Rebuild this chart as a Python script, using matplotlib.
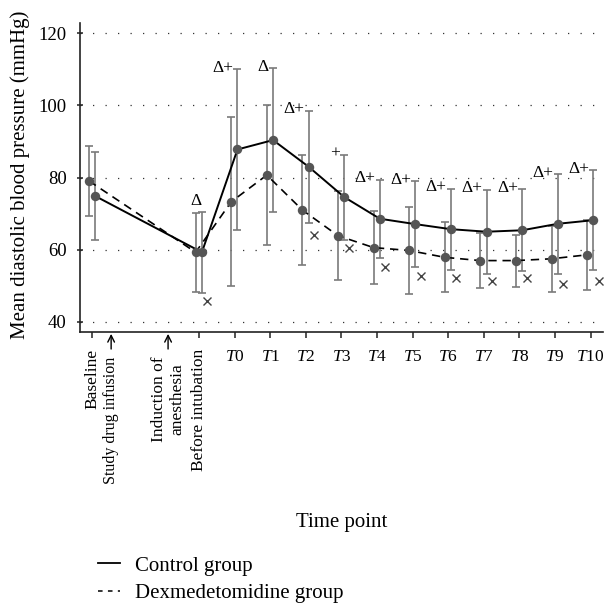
import matplotlib
matplotlib.use('Agg')
import matplotlib.pyplot as plt
from matplotlib.lines import Line2D
import numpy as np

plt.rcParams['font.family'] = ['Liberation Serif', 'DejaVu Serif']
plt.rcParams['mathtext.fontset'] = 'custom'
plt.rcParams['mathtext.rm'] = 'Liberation Serif'
plt.rcParams['mathtext.it'] = 'Liberation Serif:italic'

# ---- data ----
positions = [0, 3, 4, 5, 6, 7, 8, 9, 10, 11, 12, 13, 14]
tick_labels = ['Baseline', 'Before intubation'] + [r'$\mathit{T}$' + str(i) for i in range(11)]

ctrl_mean = [74.9, 59.3, 87.8, 90.4, 83.0, 74.6, 68.6, 67.1, 65.7, 65.0, 65.4, 67.2, 68.2]
ctrl_sd   = [12.3, 11.2, 22.3, 20.0, 15.6, 11.8, 10.8, 11.9, 11.2, 11.6, 11.4, 13.8, 13.9]
dex_mean  = [79.1, 59.3, 73.3, 80.7, 71.0, 63.9, 60.6, 59.8, 57.9, 57.0, 57.0, 57.5, 58.6]
dex_sd    = [9.7, 11.0, 23.4, 19.3, 15.3, 12.4, 10.1, 12.0, 9.7, 7.6, 7.2, 9.1, 9.7]

cross_vals = [None, 45.7, None, None, 64.2, 60.4, 55.2, 52.8, 52.3, 51.4, 52.3, 50.6, 51.4]
annotations = ['', 'Δ', 'Δ+', 'Δ', 'Δ+', '+', 'Δ+', 'Δ+', 'Δ+', 'Δ+', 'Δ+', 'Δ+', 'Δ+']

event_labels = ['Study drug infusion', 'Induction of\nanesthesia']
event_pos = [0.53, 2.13]

yticks = [40, 60, 80, 100, 120]

# ---- figure ----
fig = plt.figure(figsize=(6.06, 6.04), dpi=100)
ax = fig.add_axes([0.1320, 0.4503, 0.8630, 0.5116])

x = np.array(positions, float)
dx_d, dx_c = -0.095, 0.08
xd = x + dx_d
xc = x + dx_c

bar_col = '#7a7a7a'
ax.errorbar(xd, dex_mean, yerr=dex_sd, fmt='none', ecolor=bar_col,
            elinewidth=1.2, capsize=3, capthick=1.2, zorder=2)
ax.errorbar(xc, ctrl_mean, yerr=ctrl_sd, fmt='none', ecolor=bar_col,
            elinewidth=1.2, capsize=3, capthick=1.2, zorder=2)

ax.plot(xc, ctrl_mean, color='black', lw=1.4, zorder=3)
ax.plot(xd, dex_mean, color='black', lw=1.2, ls=(0, (5, 3.5)), zorder=3)
ax.plot(xc, ctrl_mean, 'o', color='#555555', ms=6.8, mec='none', zorder=4)
ax.plot(xd, dex_mean, 'o', color='#555555', ms=6.8, mec='none', zorder=4)

cx = [p + 0.225 for p, v in zip(positions, cross_vals) if v is not None]
cy = [v for v in cross_vals if v is not None]
ax.plot(cx, cy, 'x', color='#444444', ms=5.5, mew=1.0, zorder=4)

for i, txt in enumerate(annotations):
    if not txt:
        continue
    if i == 1:
        top = dex_mean[i] + dex_sd[i]
        ax.annotate(txt, xy=(xd[i], top), xytext=(0, 8.5), textcoords='offset points',
                    ha='center', va='center', fontsize=12.5)
    else:
        top = ctrl_mean[i] + ctrl_sd[i]
        ax.annotate(txt, xy=(xc[i], top), xytext=(-3, 1), textcoords='offset points',
                    ha='right', va='center', fontsize=12.5)

ax.set_xlim(-0.345, 14.35)
ax.set_ylim(37.2, 122.85)

ax.set_yticks(yticks)
ax.set_yticklabels([str(v) for v in yticks], fontsize=13.5)
ax.set_xticks(positions)
ax.set_xticklabels(tick_labels, fontsize=12.5)
for lbl in ax.get_xticklabels()[:2]:
    lbl.set_rotation(90)
    lbl.set_va('top')
    lbl.set_ha('center')

ax.tick_params(axis='y', direction='inout', length=5, width=1.1, pad=7, colors='#222222')
ax.tick_params(axis='x', direction='out', length=4, width=1.1, pad=8, colors='#222222')
for lbl in ax.get_xticklabels() + ax.get_yticklabels():
    lbl.set_color('black')

for s in ['top', 'right']:
    ax.spines[s].set_visible(False)
for s in ['left', 'bottom']:
    ax.spines[s].set_linewidth(1.2)
    ax.spines[s].set_color('#222222')

ax.yaxis.grid(True, color='#333333', lw=0.9, ls=(0, (1, 9)))
ax.set_axisbelow(True)

trans = ax.get_xaxis_transform()
event_sizes = [11.5, 12.5]
for lab, pos, fs in zip(event_labels, event_pos, event_sizes):
    ax.annotate('', xy=(pos, -0.006), xycoords=trans, xytext=(pos, -0.055),
                textcoords=trans,
                arrowprops=dict(arrowstyle='->', color='black', lw=1.0,
                                mutation_scale=12, shrinkA=0, shrinkB=0),
                annotation_clip=False)
    ax.text(pos, -0.08, lab, transform=trans, rotation=90, ha='center', va='top',
            fontsize=fs, multialignment='center', linespacing=1.15)

fig.text(20 / 606, 1 - 175 / 604, 'Mean diastolic blood pressure (mmHg)',
         rotation=90, ha='center', va='center', fontsize=15)
fig.text(342 / 606, 1 - 522 / 604, 'Time point', ha='center', va='center', fontsize=15)

handles = [Line2D([], [], color='black', lw=1.3),
           Line2D([], [], color='black', lw=1.1, ls=(0, (3, 3.5)))]
fig.legend(handles, ['Control group', 'Dexmedetomidine group'], loc='upper left',
           bbox_to_anchor=(98 / 606, 1 - 556 / 604), frameon=False, fontsize=15,
           handlelength=1.05, handletextpad=0.72, labelspacing=0.38,
           borderpad=0, borderaxespad=0)

fig.savefig('out.png', dpi=100)
